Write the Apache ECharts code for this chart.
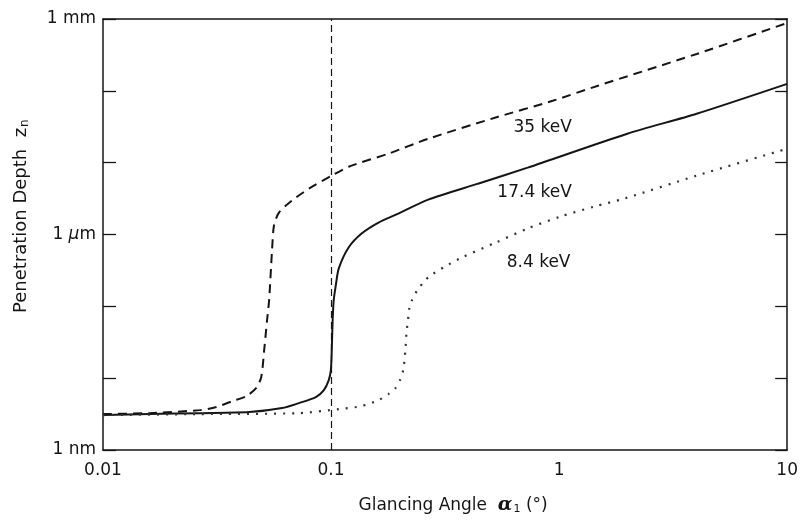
<!DOCTYPE html>
<html>
<head>
<meta charset="utf-8">
<script src="https://cdn.jsdelivr.net/npm/echarts@6/dist/echarts.min.js"></script>
<style>
  html, body { margin: 0; padding: 0; background: #fff; }
  #chart { width: 801px; height: 521px; }
</style>
</head>
<body>
<div id="chart"></div>
<script>
// glancing angle (deg) and penetration depth (nm)
const angle35 = [0.01, 0.016, 0.0265, 0.0314, 0.0369, 0.0425, 0.0469, 0.0494, 0.0509, 0.0524, 0.0535, 0.0551, 0.0562, 0.0591, 0.0674, 0.08, 0.1007, 0.123, 0.1785, 0.2668, 0.523, 0.936, 1.47, 4.01, 10]
const depth35 = [3.16, 3.26, 3.59, 3.96, 4.79, 5.62, 7.26, 10.3, 24.5, 64, 121, 600, 1334, 2020, 2970, 4350, 6600, 9090, 13340, 21500, 42200, 72600, 117000, 326000, 880000]

const angle174 = [0.01, 0.016, 0.0265, 0.0438, 0.061, 0.0723, 0.0858, 0.093, 0.0977, 0.0998, 0.1007, 0.1016, 0.1027, 0.1049, 0.1081, 0.1194, 0.1361, 0.1615, 0.1973, 0.2668, 0.4406, 0.728, 1.99, 4.01, 10]
const depth174 = [3.06, 3.16, 3.26, 3.37, 3.83, 4.5, 5.45, 6.81, 9.4, 12.9, 24.5, 64, 121, 196, 337, 660, 1032, 1468, 1958, 3062, 5100, 8530, 25300, 48000, 125000]

const angle84 = [0.01, 0.0265, 0.0723, 0.1081, 0.1361, 0.1615, 0.1785, 0.1915, 0.2014, 0.2075, 0.2118, 0.2139, 0.2183, 0.2204, 0.2272, 0.2388, 0.2537, 0.2694, 0.3164, 0.375, 0.528, 0.728, 1.014, 1.427, 1.93, 4.01, 10]
const depth84 = [3.06, 3.16, 3.26, 3.71, 4.08, 4.95, 6.0, 7.26, 9.7, 13.3, 24.5, 40.8, 72.6, 93.8, 125, 167, 215, 261, 359, 479, 774, 1212, 1778, 2448, 3162, 6600, 15650]

const xTickValues = [0.01, 0.1, 1, 10]
const xTickLabels = ['0.01', '0.1', '1', '10']
const yTickValues = [1, 1e3, 1e6]
const yTickLabels = ['1 nm', '1 {i|μ}m', '1 mm']

const criticalAngle = 0.101

const curveLabels = ['35 keV', '17.4 keV', '8.4 keV']
const labelAngle = [0.847, 0.781, 0.813]
const labelDepth = [30600, 3830, 408]

const FONT = 'DejaVu Sans'
const INK = '#151515'

function zip(xs, ys) {
  return xs.map((x, i) => [x, ys[i]])
}

function tickIndex(list, v) {
  const e = Math.log10(v)
  return list.findIndex(t => Math.abs(Math.log10(t) - e) < 1e-6)
}

const chart = echarts.init(document.getElementById('chart'), null, { renderer: 'canvas' })

const axisLine = { show: true, lineStyle: { color: INK, width: 1.5 } }

const option = {
  animation: false,
  backgroundColor: '#fff',
  grid: { left: 103, right: 10, top: 19, bottom: 71, containLabel: false },
  xAxis: [
    {
      type: 'log',
      logBase: 10,
      min: 0.01,
      max: 10,
      interval: 1,
      position: 'bottom',
      axisLine: axisLine,
      axisTick: { show: false },
      splitLine: { show: false },
      axisLabel: {
        margin: 12,
        fontFamily: FONT,
        fontSize: 17,
        color: INK,
        formatter: v => {
          const i = tickIndex(xTickValues, v)
          return i >= 0 ? xTickLabels[i] : ''
        }
      },
      name: 'Glancing Angle  {a|α}{s|1} (°)',
      nameLocation: 'middle',
      nameGap: 46,
      nameTextStyle: {
        fontFamily: FONT,
        fontSize: 17,
        color: INK,
        padding: [0, 0, 0, 16],
        rich: {
          a: { fontFamily: 'DejaVu Serif', fontStyle: 'italic', fontWeight: 'bold', fontSize: 19, color: INK },
          s: { fontFamily: FONT, fontSize: 11, color: INK, verticalAlign: 'bottom', padding: [8, 0, 0, 1] }
        }
      }
    },
    {
      type: 'log',
      logBase: 10,
      min: 0.01,
      max: 10,
      interval: 1,
      position: 'top',
      axisLine: axisLine,
      axisTick: { show: false },
      axisLabel: { show: false },
      splitLine: { show: false }
    }
  ],
  yAxis: [
    {
      type: 'log',
      logBase: 10,
      min: 1,
      max: 1e6,
      interval: 1,
      position: 'left',
      axisLine: axisLine,
      axisTick: { show: true, inside: true, length: 13, lineStyle: { color: INK, width: 1.3 } },
      splitLine: { show: false },
      axisLabel: {
        margin: 7,
        fontFamily: FONT,
        fontSize: 17,
        color: INK,
        formatter: v => {
          const i = tickIndex(yTickValues, v)
          return i >= 0 ? yTickLabels[i] : ''
        },
        rich: {
          i: { fontFamily: FONT, fontStyle: 'italic', fontSize: 17, color: INK }
        }
      }
    },
    {
      type: 'log',
      logBase: 10,
      min: 1,
      max: 1e6,
      interval: 1,
      position: 'right',
      axisLine: axisLine,
      axisTick: { show: true, inside: true, length: 12, lineStyle: { color: INK, width: 1.3 } },
      axisLabel: { show: false },
      splitLine: { show: false }
    }
  ],
  series: [
    {
      name: '35 keV',
      type: 'line',
      data: zip(angle35, depth35),
      showSymbol: false,
      symbol: 'none',
      smooth: 0.25,
      lineStyle: { color: INK, width: 2, type: [9, 6] },
      z: 3
    },
    {
      name: '17.4 keV',
      type: 'line',
      data: zip(angle174, depth174),
      showSymbol: false,
      symbol: 'none',
      smooth: 0.25,
      lineStyle: { color: INK, width: 2 },
      z: 3,
      markLine: {
        silent: true,
        symbol: ['none', 'none'],
        label: { show: false },
        lineStyle: { color: INK, width: 1.2, type: [7, 4] },
        data: [{ xAxis: criticalAngle }]
      }
    },
    {
      name: '8.4 keV',
      type: 'line',
      data: zip(angle84, depth84),
      showSymbol: false,
      symbol: 'none',
      smooth: 0.25,
      lineStyle: { color: '#333', width: 2.2, type: [2, 7] },
      z: 3
    }
  ]
}

chart.setOption(option)

// curve names and y-axis title, placed with the chart's own scales
const texts = curveLabels.map((t, i) => {
  const p = chart.convertToPixel({ seriesIndex: 0 }, [labelAngle[i], labelDepth[i]])
  return {
    type: 'text',
    x: p[0],
    y: p[1],
    style: { text: t, fontFamily: FONT, fontSize: 17, fill: INK, align: 'center', verticalAlign: 'middle' }
  }
})

const midY = chart.convertToPixel({ seriesIndex: 0 }, [0.01, 1800])[1]
texts.push({
  type: 'text',
  x: 21,
  y: midY,
  rotation: Math.PI / 2,
  style: {
    text: 'Penetration Depth  z{n|n}',
    fontFamily: FONT,
    fontSize: 18,
    fill: INK,
    align: 'center',
    verticalAlign: 'middle',
    rich: {
      n: { fontFamily: FONT, fontSize: 12, fill: INK, verticalAlign: 'bottom', padding: [8, 0, 0, 1] }
    }
  }
})

chart.setOption({ graphic: texts })
</script>
</body>
</html>
